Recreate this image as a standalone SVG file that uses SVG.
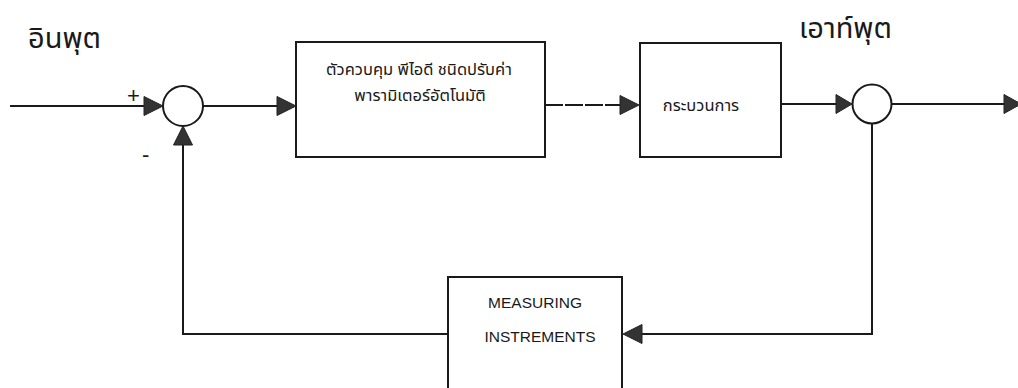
<svg xmlns="http://www.w3.org/2000/svg" width="1018" height="388" viewBox="0 0 1018 388">
  <style>
    .box { fill: #ffffff; stroke: #1a1a1a; stroke-width: 2; }
    .sum { fill: #ffffff; stroke: #1a1a1a; stroke-width: 2; }
    .wire { fill: none; stroke: #1a1a1a; stroke-width: 2; }
    .head { fill: #333333; stroke: #222222; stroke-width: 1; }
    .title { font-family: "Noto Sans Thai", "Noto Serif Thai", "DejaVu Sans", sans-serif; font-size: 29px; fill: #1a1a1a; }
    .th { font-family: "Noto Sans Thai", "Liberation Sans", "DejaVu Sans", sans-serif; font-size: 16.5px; fill: #1a1a1a; text-anchor: middle; }
    .en { font-family: "Liberation Sans", Arial, sans-serif; font-size: 15.5px; fill: #1a1a1a; text-anchor: middle; }
    .sign { font-family: "Liberation Sans", Arial, sans-serif; font-size: 22px; fill: #1a1a1a; }
  </style>
  <rect width="1018" height="388" fill="#ffffff"/>

  <!-- headings -->
  <text class="title" x="28" y="48">อินพุต</text>
  <text class="title" x="799" y="38">เอาท์พุต</text>

  <!-- connectors -->
  <g id="connectors">
    <!-- input into first summing junction -->
    <line class="wire" x1="10" y1="106" x2="146" y2="106"/>
    <polygon class="head" points="144,96.5 163,106 144,115.5"/>
    <!-- junction to controller -->
    <line class="wire" x1="203" y1="106" x2="279" y2="106"/>
    <polygon class="head" points="277,96.5 296,106 277,115.5"/>
    <!-- controller to process -->
    <line class="wire" x1="545" y1="105" x2="622" y2="105" stroke-dasharray="18 2"/>
    <polygon class="head" points="620,95.5 639,105 620,114.5"/>
    <!-- process to output junction -->
    <line class="wire" x1="781" y1="104" x2="838" y2="104"/>
    <polygon class="head" points="836,94.5 852,104 836,113.5"/>
    <!-- output -->
    <line class="wire" x1="891.5" y1="104" x2="1006" y2="104"/>
    <polygon class="head" points="1004,94.5 1021,104 1004,113.5"/>
    <!-- feedback path: output junction down to measuring block -->
    <polyline class="wire" points="872,123.5 872,334 641,334"/>
    <polygon class="head" points="642,324.5 623,334 642,343.5"/>
    <!-- measuring block back to first junction -->
    <polyline class="wire" points="448,334 183,334 183,144"/>
    <polygon class="head" points="173.5,145 183,126 192.5,145"/>
  </g>

  <!-- sign marks -->
  <text class="sign" x="127" y="103">+</text>
  <text class="sign" x="142" y="162">-</text>

  <g id="sum-input">
    <circle class="sum" cx="183" cy="106" r="20"/>
  </g>

  <g id="controller">
    <rect class="box" x="296" y="42" width="249" height="115"/>
    <text class="th" x="419" y="75">ตัวควบคุม พีไอดี ชนิดปรับค่า</text>
    <text class="th" x="420" y="101">พารามิเตอร์อัตโนมัติ</text>
  </g>

  <g id="process">
    <rect class="box" x="640" y="43" width="141" height="114"/>
    <text class="th" x="701" y="111">กระบวนการ</text>
  </g>

  <g id="sum-output">
    <circle class="sum" cx="872" cy="104" r="19.5"/>
  </g>

  <g id="measuring">
    <rect class="box" x="448" y="277" width="174" height="118"/>
    <text class="en" x="535" y="308">MEASURING</text>
    <text class="en" x="540" y="342">INSTREMENTS</text>
  </g>
</svg>
